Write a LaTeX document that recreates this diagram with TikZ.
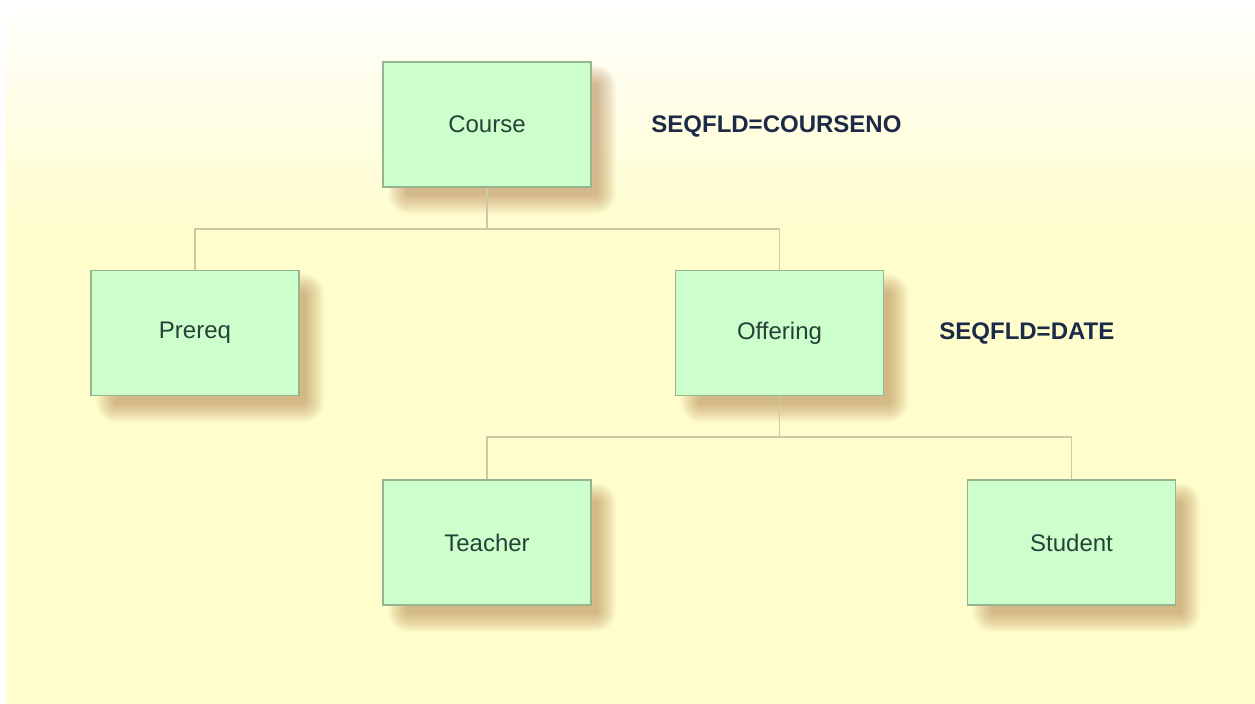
\documentclass[tikz,border=0pt]{standalone}
\usepackage{fontspec}
\setmainfont{Liberation Sans}
\usetikzlibrary{calc}
\definecolor{bgyellow}{RGB}{255,253,204}
\definecolor{boxfill}{RGB}{204,255,204}
\definecolor{boxline}{RGB}{150,180,145}
\definecolor{linecol}{RGB}{205,200,165}
\definecolor{boxtext}{RGB}{38,66,56}
\definecolor{labtext}{RGB}{28,42,72}
\definecolor{shadowcol}{RGB}{180,125,70}
\tikzset{
  entity/.style={draw=boxline, line width=0.6pt, fill=boxfill, minimum width=104pt, minimum height=62.5pt,
    inner sep=0pt, text=boxtext, font=\fontsize{12}{14}\selectfont},
  seqlabel/.style={text=labtext, font=\fontsize{12}{14}\selectfont\bfseries, inner sep=0pt},
  tree/.style={draw=linecol, line width=0.8pt},
}
\newcommand{\softshadow}[1]{%
  \foreach \i in {0,...,19}{%
    \pgfmathsetmacro{\rc}{0.5*\i+1}%
    \fill[shadowcol, opacity=0.03, rounded corners=\rc pt]
      ($(#1)+(-104+24-\i,-62.5+22-\i)$) rectangle ($(#1)+(104+6+\i,62.5+8+\i)$);
  }%
}
\begin{document}
\begin{tikzpicture}[x=0.5pt, y=-0.5pt]
  \useasboundingbox (0,0) rectangle (1255,704);
  % background
  \fill[bgyellow] (-3,-3) rectangle (1258,707);
  \shade[top color=white, bottom color=bgyellow] (-3,-3) rectangle (1258,230);
  \fill[white] (-3,-3) rectangle (6,707);

  % box centres
  \coordinate (cC) at (487,124.5);
  \coordinate (cP) at (195,333);
  \coordinate (cO) at (779.5,333);
  \coordinate (cT) at (487,542.5);
  \coordinate (cS) at (1071.5,542.5);
  \softshadow{cC}
  \softshadow{cP}
  \softshadow{cO}
  \softshadow{cT}
  \softshadow{cS}

  \coordinate (j1) at (487,229);
  \coordinate (j2) at (779.5,437);
  \node[entity] (course) at (cC) {Course};
  \node[entity] (prereq) at (cP) {Prereq};
  \node[entity] (offering) at (cO) {Offering};
  \node[entity] (teacher) at (cT) {Teacher};
  \node[entity] (student) at (cS) {Student};

  % connectors
  \draw[tree] (course.south) -- (j1);
  \draw[tree] (prereq.north) |- (j1) -| (offering.north);
  \draw[tree] (offering.south) -- (j2);
  \draw[tree] (teacher.north) |- (j2) -| (student.north);

  % labels
  \node[seqlabel, anchor=west] (lab1) at (651,126) {SEQFLD=COURSENO};
  \node[seqlabel, anchor=west] (lab2) at (939,333) {SEQFLD=DATE};
\end{tikzpicture}
\end{document}
